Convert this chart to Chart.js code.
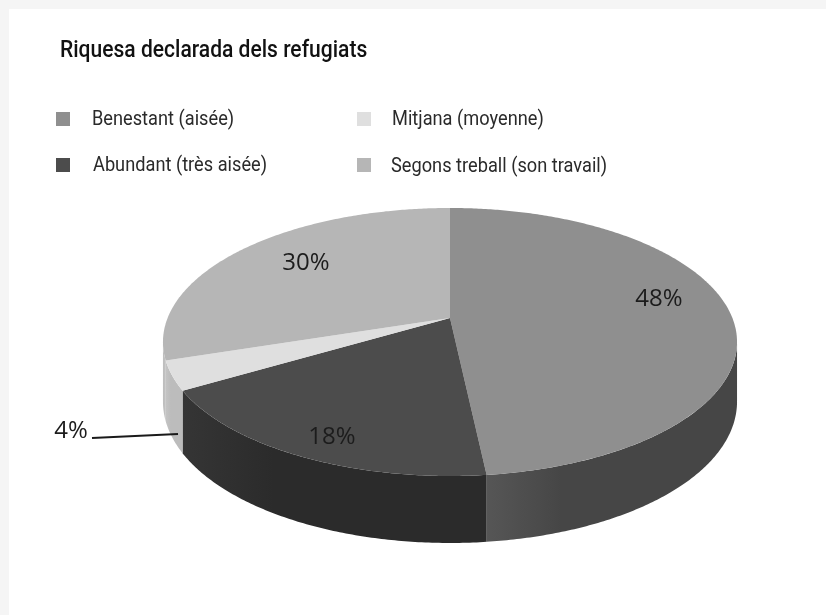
<!DOCTYPE html>
<html lang="ca">
<head>
<meta charset="utf-8">
<title>Riquesa declarada dels refugiats</title>
<script src="https://cdn.jsdelivr.net/npm/chart.js@4"></script>
<style>
    html, body { margin: 0; padding: 0; background: #f5f5f5; }
    #card { position: absolute; left: 9px; top: 9px; width: 817px; height: 606px; background: #fff; }
    #page { position: absolute; left: 0; top: 0; width: 826px; height: 615px; overflow: hidden; }
    canvas { position: absolute; left: 0; top: 0; }
    .txt { position: absolute; white-space: nowrap; color: #2a2a2a; font-family: "Roboto", sans-serif; transform-origin: left top; }
    #title { left: 60px; top: 36px; font-size: 23px; font-weight: 500; color: #111; transform: scaleX(0.915); }
    .leg { font-size: 19.7px; line-height: 22px; transform: scaleX(0.925); }
    .swatch { position: absolute; width: 14px; height: 14px; filter: blur(0.6px); }
    .pct { font-family: "Open Sans", sans-serif; font-size: 24px; color: #1c1c1c; transform: translate(-50%, -50%); }
</style>
</head>
<body>
<div id="page">
    <div id="card"></div>
    <canvas id="pie" width="826" height="615"></canvas>
    <div id="title" class="txt">Riquesa declarada dels refugiats</div>
</div>
<script>
// Dades llegides del gràfic (les etiquetes mostren el valor arrodonit)
const categories = ['Benestant (aisée)', 'Abundant (très aisée)', 'Mitjana (moyenne)', 'Segons treball (son travail)'];
const values = [48.3, 18.2, 3.5, 30];
const topColors = ['#8f8f8f', '#4c4c4c', '#dfdfdf', '#b6b6b6'];
const wallColors = [['#565656', '#464646'], ['#353535', '#2b2b2b'], ['#c4c4c4', '#bcbcbc'], ['#bcbcbc', '#c0c0c0']];

// Llegenda i etiquetes (posicions en píxels de la pàgina)
const legendPos = [[56, 112, 92, 108], [56, 158, 93, 154], [357, 112, 392, 108], [357, 158, 391, 155]];
const labelPos = [[659, 296], [332, 434], [71, 428], [306, 260]];

// Projecció en perspectiva del cercle unitat
const CX = 450, CY = 318, PERSP = 0.179, RX = 282.4, RY = 129.7;
const DEPTH_BACK = 58, DEPTH_FRONT = 67;

function project(t) {
    const u = Math.cos(t), v = Math.sin(t);
    const w = 1 - PERSP * v;
    return [CX + RX * u / w, CY + RY * v / w];
}

function depthAt(t) {
    return DEPTH_BACK + (DEPTH_FRONT - DEPTH_BACK) * Math.sin(t);
}

function arcAngles(a0, a1) {
    const n = Math.max(2, Math.ceil(Math.abs(a1 - a0) / 0.01));
    const out = [];
    for (let i = 0; i <= n; i++) {
        out.push(a0 + (a1 - a0) * i / n);
    }
    return out;
}

const pie3d = {
    id: 'pie3d',
    beforeDatasetDraw(chart, args) {
        const ctx = chart.ctx;
        const arcs = chart.getDatasetMeta(args.index).data;
        const tMin = Math.asin(PERSP), tMax = Math.PI - tMin;

        // Parets laterals: només la part frontal
        arcs.forEach((arc, i) => {
            const a0 = Math.max(arc.startAngle, tMin), a1 = Math.min(arc.endAngle, tMax);
            if (a1 <= a0) return;
            const angles = arcAngles(a0, a1);
            const p0 = project(a1), p1 = project(a0);
            const grad = ctx.createLinearGradient(Math.min(p0[0], p1[0]), 0, Math.max(p0[0], p1[0]), 0);
            // el costat clar de la paret queda a la vora esquerra
            grad.addColorStop(0, wallColors[i][0]);
            grad.addColorStop(0.3, wallColors[i][1]);
            grad.addColorStop(1, wallColors[i][1]);
            ctx.beginPath();
            angles.forEach((t, k) => {
                const p = project(t);
                k ? ctx.lineTo(p[0], p[1]) : ctx.moveTo(p[0], p[1]);
            });
            angles.reverse().forEach(t => {
                const p = project(t);
                ctx.lineTo(p[0], p[1] + depthAt(t));
            });
            ctx.closePath();
            ctx.fillStyle = grad;
            ctx.fill();
        });

        // Cara superior
        arcs.forEach((arc, i) => {
            ctx.beginPath();
            ctx.moveTo(CX, CY);
            arcAngles(arc.startAngle, arc.endAngle).forEach(t => {
                const p = project(t);
                ctx.lineTo(p[0], p[1]);
            });
            ctx.closePath();
            ctx.fillStyle = topColors[i];
            ctx.fill();
        });

        // Línia guia del 4%
        ctx.beginPath();
        ctx.moveTo(92, 438);
        ctx.lineTo(178, 434);
        ctx.lineWidth = 2;
        ctx.strokeStyle = '#1a1a1a';
        ctx.stroke();
        return false;
    }
};

new Chart(document.getElementById('pie'), {
    type: 'pie',
    data: {
        labels: categories,
        datasets: [{ data: values, backgroundColor: topColors, borderWidth: 0 }]
    },
    options: {
        responsive: false,
        devicePixelRatio: 1,
        animation: false,
        plugins: { legend: { display: false }, tooltip: { enabled: false } }
    },
    plugins: [pie3d]
});

// Llegenda i percentatges com a text real
const page = document.getElementById('page');
categories.forEach((name, i) => {
    const [sx, sy, tx, ty] = legendPos[i];
    const sw = document.createElement('div');
    sw.className = 'swatch';
    sw.style.left = sx + 'px';
    sw.style.top = sy + 'px';
    sw.style.background = topColors[i];
    page.appendChild(sw);
    const t = document.createElement('div');
    t.className = 'txt leg';
    t.style.left = tx + 'px';
    t.style.top = ty + 'px';
    t.textContent = name;
    page.appendChild(t);
    const p = document.createElement('div');
    p.className = 'txt pct';
    p.style.left = labelPos[i][0] + 'px';
    p.style.top = labelPos[i][1] + 'px';
    p.textContent = Math.round(values[i]) + '%';
    page.appendChild(p);
});
</script>
</body>
</html>
